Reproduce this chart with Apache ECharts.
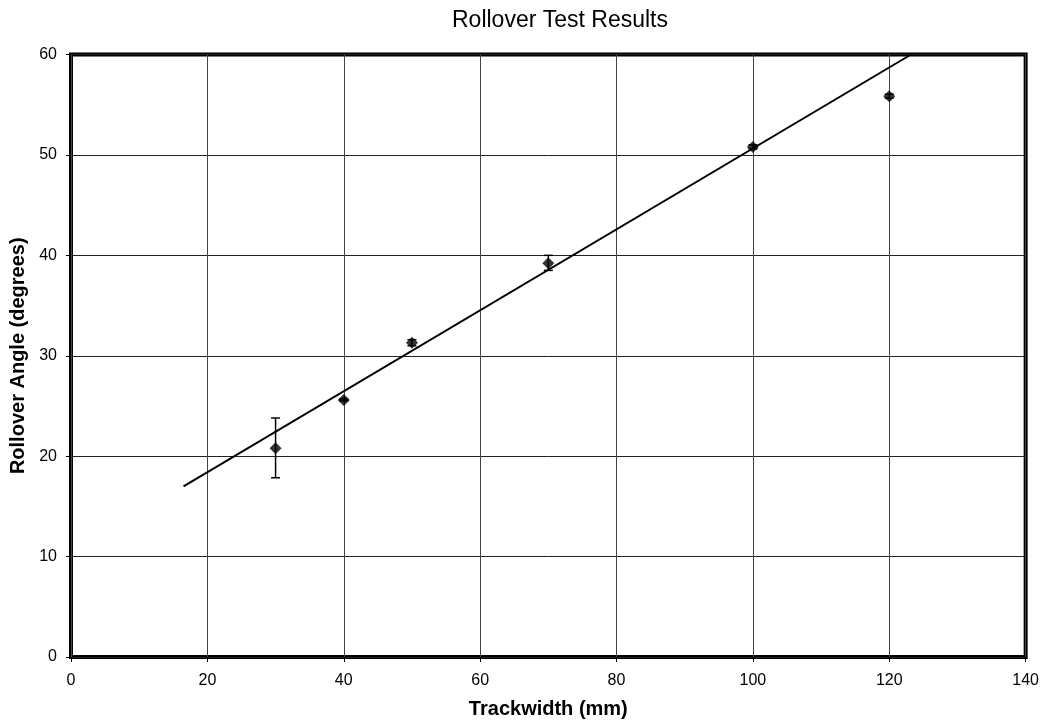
<!DOCTYPE html>
<html>
<head>
<meta charset="utf-8">
<script src="https://cdn.jsdelivr.net/npm/echarts@6/dist/echarts.min.js"></script>
<style>
  html, body { margin: 0; padding: 0; background: #fff; }
  #chart { width: 1042px; height: 725px; }
</style>
</head>
<body>
<div id="chart"></div>
<script>
// trackwidth (mm) vs rollover angle (degrees)
var trackwidth = [30, 40, 50, 70, 100, 120]
var angle = [20.8, 25.6, 31.3, 39.2, 50.8, 55.85]
var errLow = [17.85, 25.5, 31.0, 38.5, 50.6, 55.65]
var errHigh = [23.8, 25.7, 31.6, 40.0, 51.0, 56.05]
// linear trendline endpoints
var trendX = [16.5, 123.2]
var trendY = [17.0, 60.0]

var chart = echarts.init(document.getElementById('chart'))

var points = trackwidth.map(function (x, i) { return [x, angle[i]] })
var bars = trackwidth.map(function (x, i) { return [x, errLow[i], errHigh[i]] })
var trend = trendX.map(function (x, i) { return [x, trendY[i]] })

var font = 'Liberation Sans, Arial, sans-serif'

chart.setOption({
  animation: false,
  textStyle: { fontFamily: font, color: '#000' },
  title: {
    text: 'Rollover Test Results',
    left: 555,
    top: 4,
    textAlign: 'center',
    textStyle: { fontSize: 23, fontWeight: 'normal', color: '#000', fontFamily: font }
  },
  grid: {
    left: 71,
    top: 54.5,
    right: 16,
    bottom: 68,
    show: true,
    borderColor: '#000',
    borderWidth: 4,
    containLabel: false
  },
  xAxis: {
    type: 'value',
    min: 0,
    max: 140,
    interval: 20,
    name: 'Trackwidth (mm)',
    nameLocation: 'middle',
    nameGap: 42,
    nameTextStyle: { fontSize: 20, fontWeight: 'bold', color: '#000', fontFamily: font },
    axisLine: { show: false },
    axisTick: { show: true, length: 5, lineStyle: { color: '#000' } },
    axisLabel: { fontSize: 16, color: '#000', margin: 16, fontFamily: font },
    splitLine: { show: true, lineStyle: { color: '#444', width: 1 } }
  },
  yAxis: {
    type: 'value',
    min: 0,
    max: 60,
    interval: 10,
    name: 'Rollover Angle (degrees)',
    nameLocation: 'middle',
    nameGap: 43,
    nameTextStyle: { fontSize: 20, fontWeight: 'bold', color: '#000', fontFamily: font },
    axisLine: { show: false },
    axisTick: { show: true, length: 5, lineStyle: { color: '#000' } },
    axisLabel: { fontSize: 16, color: '#000', margin: 14, fontFamily: font },
    splitLine: { show: true, lineStyle: { color: '#222', width: 1 } }
  },
  series: [
    {
      name: 'trend',
      type: 'line',
      data: trend,
      symbol: 'none',
      clip: true,
      lineStyle: { color: '#000', width: 2 },
      z: 3
    },
    {
      name: 'error',
      type: 'custom',
      data: bars,
      renderItem: function (params, api) {
        var x = api.value(0)
        var lo = api.coord([x, api.value(1)])
        var hi = api.coord([x, api.value(2)])
        var cap = 4.5
        var style = { stroke: '#000', lineWidth: 1.5 }
        return {
          type: 'group',
          children: [
            { type: 'line', shape: { x1: lo[0], y1: lo[1], x2: hi[0], y2: hi[1] }, style: style },
            { type: 'line', shape: { x1: lo[0] - cap, y1: lo[1], x2: lo[0] + cap, y2: lo[1] }, style: style },
            { type: 'line', shape: { x1: hi[0] - cap, y1: hi[1], x2: hi[0] + cap, y2: hi[1] }, style: style }
          ]
        }
      },
      z: 4
    },
    {
      name: 'data',
      type: 'scatter',
      data: points,
      symbol: 'diamond',
      symbolSize: [12, 12],
      itemStyle: { color: '#000' },
      z: 5
    }
  ]
})
</script>
</body>
</html>
